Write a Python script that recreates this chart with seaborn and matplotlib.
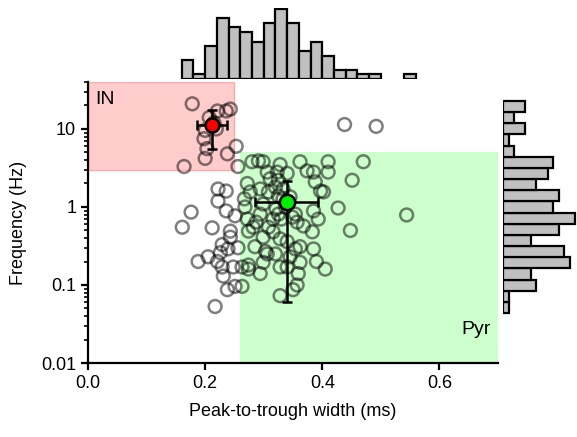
import numpy as np
import pandas as pd
import matplotlib
matplotlib.use("Agg")
import matplotlib.pyplot as plt
from matplotlib.patches import Rectangle
from matplotlib.ticker import FixedLocator, LogLocator, NullFormatter
import seaborn as sns

sns.set_style("white")
plt.rcParams['font.family'] = ['Liberation Sans', 'DejaVu Sans']
plt.rcParams['text.color'] = 'black'
plt.rcParams['axes.labelcolor'] = 'black'

# ---- data: individual units (peak-to-trough width in ms, firing frequency in Hz)
width_ms = [
    0.178, 0.221, 0.236, 0.243, 0.207, 0.215, 0.219, 0.200, 0.198, 0.203,
    0.253, 0.238, 0.200, 0.164, 0.256, 0.438, 0.492, 0.280, 0.299, 0.328,
    0.362, 0.374, 0.385, 0.410, 0.410, 0.470, 0.306, 0.323, 0.291, 0.311,
    0.340, 0.325, 0.320, 0.308, 0.272, 0.277, 0.388, 0.397, 0.402, 0.451,
    0.222, 0.236, 0.294, 0.333, 0.222, 0.236, 0.176, 0.161, 0.268, 0.272,
    0.294, 0.316, 0.325, 0.354, 0.385, 0.393, 0.427, 0.448, 0.251, 0.212,
    0.243, 0.282, 0.308, 0.368, 0.383, 0.357, 0.544, 0.337, 0.299, 0.229,
    0.243, 0.256, 0.239, 0.285, 0.299, 0.316, 0.303, 0.354, 0.362, 0.385,
    0.340, 0.328, 0.188, 0.205, 0.221, 0.229, 0.248, 0.274, 0.274, 0.299,
    0.306, 0.328, 0.340, 0.362, 0.405, 0.294, 0.359, 0.263, 0.345, 0.238,
    0.251, 0.263, 0.328, 0.357, 0.217, 0.350, 0.325, 0.333, 0.321, 0.345,
    0.330, 0.349, 0.267, 0.274, 0.287, 0.320, 0.226, 0.390, 0.231,
]
freq_hz = [
    21.0, 17.0, 17.0, 18.0, 14.0, 12.0, 10.0, 9.6, 7.5, 5.6,
    6.0, 4.8, 4.2, 3.3, 3.3, 11.4, 10.8, 3.8, 3.8, 3.5,
    3.8, 2.9, 2.8, 3.8, 2.8, 3.8, 2.8, 2.8, 3.9, 2.3,
    2.7, 2.2, 1.8, 1.56, 2.0, 1.56, 2.1, 1.6, 1.56, 2.2,
    1.7, 1.6, 1.7, 1.7, 1.19, 0.89, 0.86, 0.55, 1.0, 0.70,
    0.81, 0.70, 0.81, 0.81, 0.89, 0.70, 0.97, 0.50, 0.77, 0.54,
    0.49, 0.55, 0.55, 0.57, 0.48, 0.64, 0.79, 1.0, 1.09, 0.33,
    0.41, 0.30, 0.29, 0.31, 0.41, 0.48, 0.27, 0.29, 0.31, 0.29,
    0.36, 0.39, 0.20, 0.23, 0.20, 0.17, 0.17, 0.16, 0.18, 0.195,
    0.25, 0.17, 0.17, 0.195, 0.16, 0.14, 0.14, 0.17, 0.23, 0.087,
    0.096, 0.096, 0.073, 0.10, 0.053, 0.087, 1.39, 1.27, 0.94, 1.35,
    0.70, 0.74, 1.27, 0.49, 0.64, 0.25, 0.26, 0.20, 0.13,
]

# group means with error bars
in_mean_x, in_mean_y = 0.212, 11.2
in_xerr = [[0.026], [0.026]]
in_yerr = [[11.2 - 5.6], [17.3 - 11.2]]
pyr_mean_x, pyr_mean_y = 0.340, 1.15
pyr_xerr = [[0.055], [0.053]]
pyr_yerr = [[1.15 - 0.06], [2.17 - 1.15]]

# marginal histogram counts
width_bin_lo = [0.16, 0.18, 0.20, 0.22, 0.24, 0.26, 0.28, 0.30, 0.32, 0.34,
                0.36, 0.38, 0.40, 0.42, 0.44, 0.46, 0.48, 0.50, 0.52, 0.54]
width_counts = [4, 1, 7, 13, 11, 10, 8, 12, 15, 12, 6, 8, 5, 2, 2, 1, 1, 0, 0, 1]
freq_log_edges = np.linspace(-1.36, 1.36, 20)
freq_counts = [1, 1, 6, 5, 12, 11, 5, 10, 13, 9, 10, 6, 8, 9, 2, 1, 4, 2, 4]

# classification regions
in_box = dict(x0=0.0, x1=0.25, y0=3.0, y1=40.0)
pyr_box = dict(x0=0.26, x1=0.70, y0=0.01, y1=5.0)

df = pd.DataFrame({"width": width_ms, "freq": freq_hz})

W, H = 577, 437
fig = plt.figure(figsize=(W / 100, H / 100), dpi=100)
ax = fig.add_axes([88 / W, 74 / H, 410 / W, 281 / H])
ax_top = fig.add_axes([88 / W, (H - 79) / H, 410 / W, 71 / H])
ax_right = fig.add_axes([503 / W, 74 / H, 74 / W, 281 / H])

ax.set_yscale("log")
ax.set_xlim(0, 0.7)
ax.set_ylim(0.01, 40)

ax.add_patch(Rectangle((in_box["x0"], in_box["y0"]), in_box["x1"] - in_box["x0"],
                       in_box["y1"] - in_box["y0"], facecolor="#ffcccc",
                       edgecolor="#ffaaaa", lw=1, zorder=0))
ax.add_patch(Rectangle((pyr_box["x0"], pyr_box["y0"]), pyr_box["x1"] - pyr_box["x0"],
                       pyr_box["y1"] - pyr_box["y0"], facecolor="#ccffcc",
                       edgecolor="none", lw=0, zorder=0))

sns.scatterplot(data=df, x="width", y="freq", ax=ax, s=85, marker="o",
                facecolor="none", edgecolor="black", linewidth=1.8, alpha=0.5,
                zorder=2, legend=False)

ax.errorbar([in_mean_x], [in_mean_y], xerr=in_xerr, yerr=in_yerr, fmt="o",
            color="black", mfc="red", mec="black", ms=10, mew=1.8,
            elinewidth=1.8, capsize=3.5, capthick=1.8, zorder=4)
ax.errorbar([pyr_mean_x], [pyr_mean_y], xerr=pyr_xerr, yerr=pyr_yerr, fmt="o",
            color="black", mfc="#00ee00", mec="black", ms=11, mew=1.8,
            elinewidth=1.8, capsize=3.5, capthick=1.8, zorder=4)

ax.text(0.012, 24, "IN", fontsize=14, ha="left", va="center")
ax.text(0.663, 0.027, "Pyr", fontsize=14, ha="center", va="center")

for s in ["top", "right"]:
    ax.spines[s].set_visible(False)
for s in ["left", "bottom"]:
    ax.spines[s].set_linewidth(1.6)
    ax.spines[s].set_color("black")
ax.xaxis.set_major_locator(FixedLocator([0, 0.2, 0.4, 0.6]))
ax.set_xticklabels(["0.0", "0.2", "0.4", "0.6"])
ax.yaxis.set_major_locator(FixedLocator([0.01, 0.1, 1, 10]))
ax.set_yticklabels(["0.01", "0.1", "1", "10"])
ax.yaxis.set_minor_locator(LogLocator(base=10, subs=np.arange(2, 10)))
ax.yaxis.set_minor_formatter(NullFormatter())
ax.tick_params(axis="both", which="major", direction="out", length=5, width=1.6,
               labelsize=13, colors="black", bottom=True, left=True)
ax.tick_params(axis="y", which="minor", direction="out", length=3, width=1.2,
               left=True, colors="black")
ax.set_xlabel("Peak-to-trough width (ms)", fontsize=13, labelpad=8)
ax.set_ylabel("Frequency (Hz)", fontsize=13, labelpad=10)

# top histogram
lo = np.array(width_bin_lo)
cnt = np.array(width_counts)
m = cnt > 0
ax_top.bar(lo[m], cnt[m], width=0.02, align="edge", color="#c0c0c0",
           edgecolor="black", linewidth=1.6)
ax_top.set_xlim(0, 0.7)
ax_top.set_ylim(0, 15.15)
ax_top.axis("off")

# right histogram
edges = 10 ** freq_log_edges
fc = np.array(freq_counts)
ax_right.barh(edges[:-1], fc, height=np.diff(edges), align="edge",
              color="#c0c0c0", edgecolor="black", linewidth=1.6)
ax_right.set_yscale("log")
ax_right.set_ylim(0.01, 40)
ax_right.set_xlim(0, 13.3)
ax_right.axis("off")

fig.savefig("out.png", dpi=100)
